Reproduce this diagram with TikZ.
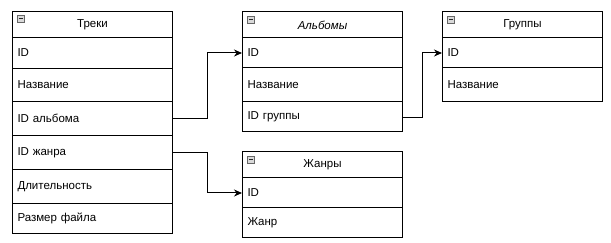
\documentclass[tikz,border=0pt]{standalone}
\usepackage{fontspec}
\setmainfont{Liberation Sans}
\usetikzlibrary{arrows.meta}
\tikzset{
  cell/.style={draw=black, line width=1pt, anchor=north west, minimum width=160pt,
    text width=150pt, inner xsep=5pt, inner ysep=0pt, align=left,
    font=\fontsize{11.5pt}{13pt}\selectfont},
  head/.style={cell, align=center, minimum height=26pt},
  tbicon/.style={draw=black!60, fill=black!15, line width=0.7pt, minimum size=7pt,
    inner sep=0pt, path picture={\draw[line width=1pt, black!85]
      ([xshift=1.5pt]path picture bounding box.west) --
      ([xshift=-1.5pt]path picture bounding box.east);}},
  conn/.style={draw=black, line width=1pt, -{Stealth[length=8pt,width=7pt]}}
}
\begin{document}
\begin{tikzpicture}[x=1pt,y=-1pt]
\useasboundingbox (0,0) rectangle (611,243);
% Треки
\node[head] (th) at (12,11) {Треки};
\node[cell, minimum height=31pt] (t1) at (12,37) {ID};
\node[cell, minimum height=33pt] (t2) at (12,68) {Название};
\node[cell, minimum height=34pt] (t3) at (12,101) {ID альбома};
\node[cell, minimum height=34pt] (t4) at (12,135) {ID жанра};
\node[cell, minimum height=34pt] (t5) at (12,169) {Длительность};
\node[cell, minimum height=30pt] (t6) at (12,203) {Размер файла};
\node[tbicon] (ti) at (20.5,19) {};
% Альбомы
\node[head, font=\fontsize{11.5pt}{13pt}\selectfont\itshape] (ah) at (242,11.5) {Альбомы};
\node[cell, minimum height=30pt] (a1) at (242,37.5) {ID};
\node[cell, minimum height=33.5pt] (a2) at (242,67.5) {Название};
\node[cell, minimum height=30pt] (a3) at (242,101) {ID группы};
\node[tbicon] (ai) at (251,19.5) {};
% Группы
\node[head] (gh) at (442,11.5) {Группы};
\node[cell, minimum height=30pt] (g1) at (442,37.5) {ID};
\node[cell, minimum height=33.5pt] (g2) at (442,67.5) {Название};
\node[tbicon] (gi) at (451,19.5) {};
% Жанры
\node[head] (zh) at (242,151.5) {Жанры};
\node[cell, minimum height=30pt] (z1) at (242,177.5) {ID};
\node[cell, minimum height=29.5pt] (z2) at (242,207.5) {Жанр};
\node[tbicon] (zi) at (251,159.5) {};
% connectors
\coordinate (m1) at (207,0);
\coordinate (m2) at (422.5,0);
\draw[conn] (t3.east) -- (t3.east -| m1) |- (a1.west);
\draw[conn] ([yshift=-1.5pt]a3.east) -- ([yshift=-1.5pt]a3.east -| m2) |- (g1.west);
\draw[conn] (t4.east) -- (t4.east -| m1) |- (z1.west);
\end{tikzpicture}
\end{document}
